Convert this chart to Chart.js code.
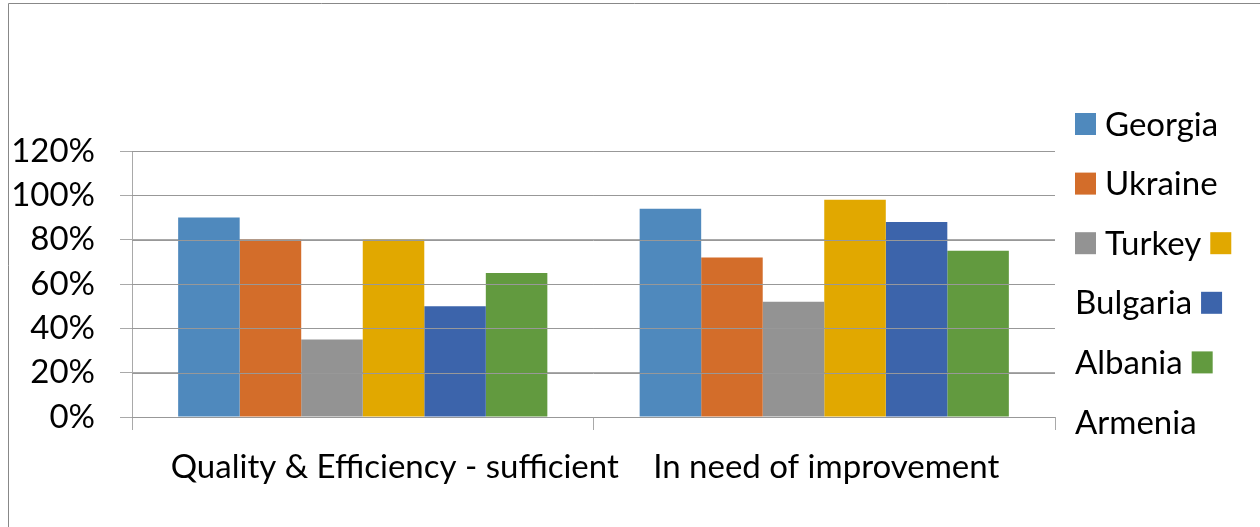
<!DOCTYPE html>
<html>
<head>
<meta charset="utf-8">
<script src="https://cdn.jsdelivr.net/npm/chart.js@4.4.1/dist/chart.umd.min.js"></script>
<style>
  html, body { margin: 0; padding: 0; background: #ffffff; }
  #wrap { width: 1260px; height: 527px; position: relative; }
</style>
</head>
<body>
<div id="wrap"><canvas id="chart" width="1260" height="527"></canvas></div>
<script>
// Survey answers per country, share of respondents
const categories = ['Quality & Efficiency - sufficient', 'In need of improvement'];
const countries = ['Georgia', 'Ukraine', 'Turkey', 'Bulgaria', 'Albania', 'Armenia'];
const georgia  = [0.90, 0.94];
const ukraine  = [0.80, 0.72];
const turkey   = [0.35, 0.52];
const bulgaria = [0.80, 0.98];
const albania  = [0.50, 0.88];
const armenia  = [0.65, 0.75];
const yTicks = [0, 0.2, 0.4, 0.6, 0.8, 1.0, 1.2];

const seriesValues = [georgia, ukraine, turkey, bulgaria, albania, armenia];
const seriesColors = ['#4F89BD', '#D36D2A', '#939393', '#E1A800', '#3C64AB', '#629A3F'];

const FONT = 'Lato';
const FONT_SIZE = 33;
const GRID = '#A9A9A9';

// Outer frame of the chart
const framePlugin = {
  id: 'frame',
  beforeDraw(chart) {
    const ctx = chart.ctx;
    ctx.save();
    ctx.fillStyle = '#ffffff';
    ctx.fillRect(0, 0, chart.width, chart.height);
    ctx.strokeStyle = '#888888';
    ctx.lineWidth = 1;
    ctx.beginPath();
    ctx.moveTo(8.5, chart.height);
    ctx.lineTo(8.5, 3.5);
    ctx.lineTo(chart.width, 3.5);
    ctx.stroke();
    ctx.restore();
  }
};

// Horizontal gridlines repeated on top of the bars, at the y scale's tick positions
const gridOverBarsPlugin = {
  id: 'gridOverBars',
  afterDatasetsDraw(chart) {
    const ctx = chart.ctx;
    const ys = chart.scales.y;
    const area = chart.chartArea;
    ctx.save();
    ctx.strokeStyle = '#989898';
    ctx.lineWidth = 1;
    ctx.beginPath();
    ys.ticks.forEach(t => {
      const y = Math.round(ys.getPixelForValue(t.value)) + 0.5;
      ctx.moveTo(area.left, y);
      ctx.lineTo(area.right, y);
    });
    ctx.stroke();
    ctx.restore();
  }
};

// Category labels below the x axis
const labelShift = [32, 2];
const categoryLabelPlugin = {
  id: 'categoryLabels',
  afterDraw(chart) {
    const ctx = chart.ctx;
    const xs = chart.scales.x;
    ctx.save();
    ctx.font = FONT_SIZE + 'px ' + FONT;
    ctx.fillStyle = '#000000';
    ctx.textAlign = 'center';
    ctx.textBaseline = 'middle';
    categories.forEach((c, i) => {
      ctx.fillText(c, xs.getPixelForValue(i) + labelShift[i], 467);
    });
    ctx.restore();
  }
};

// Legend laid out as a flowing run of swatches and names that wraps inside a fixed width
const flowLegendPlugin = {
  id: 'flowLegend',
  afterDraw(chart) {
    const ctx = chart.ctx;
    const left = 1075, maxRight = 1240, top = 124, rowStep = 59.6;
    const box = 21, gap = 9;
    ctx.save();
    ctx.font = FONT_SIZE + 'px ' + FONT;
    ctx.textBaseline = 'middle';
    ctx.textAlign = 'left';
    const tokens = [];
    chart.data.datasets.forEach(ds => {
      tokens.push({ type: 'box', color: ds.backgroundColor, w: box });
      tokens.push({ type: 'text', text: ds.label, w: ctx.measureText(ds.label).width });
    });
    let x = left, row = 0, first = true;
    tokens.forEach(t => {
      const need = (first ? 0 : gap) + t.w;
      if (!first && x + need > maxRight) {
        row++; x = left; first = true;
      }
      if (!first) x += gap;
      const cy = top + row * rowStep;
      if (t.type === 'box') {
        ctx.fillStyle = t.color;
        ctx.fillRect(x, cy - 11, box, 22);
      } else {
        ctx.fillStyle = '#000000';
        ctx.fillText(t.text, x, cy + 1);
      }
      x += t.w;
      first = false;
    });
    ctx.restore();
  }
};

const datasets = countries.map((name, i) => ({
  label: name,
  data: seriesValues[i],
  backgroundColor: seriesColors[i],
  borderWidth: 0,
  categoryPercentage: 0.8,
  barPercentage: 1.0
}));

new Chart(document.getElementById('chart'), {
  type: 'bar',
  data: { labels: categories, datasets },
  options: {
    responsive: false,
    devicePixelRatio: 1,
    animation: false,
    layout: { padding: { left: 0, top: 151, right: 205, bottom: 0 } },
    plugins: {
      legend: { display: false },
      tooltip: { enabled: false }
    },
    scales: {
      x: {
        type: 'category',
        offset: true,
        grid: {
          offset: true,
          drawOnChartArea: false,
          drawTicks: true,
          tickLength: 13,
          color: GRID
        },
        border: { display: true, color: GRID, width: 1 },
        ticks: { display: false },
        afterFit(scale) { scale.height = 110; }
      },
      y: {
        min: 0,
        max: 1.2,
        afterBuildTicks(scale) {
          scale.ticks = yTicks.map(v => ({ value: v }));
        },
        grid: {
          color: GRID,
          lineWidth: 1,
          drawTicks: true,
          tickLength: 12
        },
        border: { display: true, color: GRID, width: 1 },
        ticks: {
          padding: 25,
          color: '#000000',
          font: { family: FONT, size: FONT_SIZE },
          callback: v => Math.round(v * 100) + '%'
        },
        afterFit(scale) { scale.width = 132; }
      }
    }
  },
  plugins: [framePlugin, gridOverBarsPlugin, categoryLabelPlugin, flowLegendPlugin]
});
</script>
</body>
</html>
